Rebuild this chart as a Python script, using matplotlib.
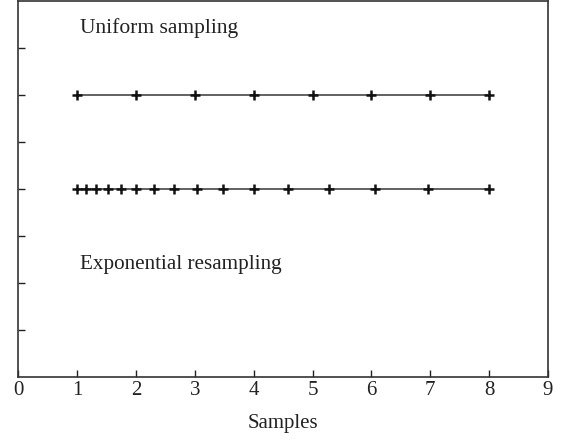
import matplotlib
matplotlib.use("Agg")
import matplotlib.pyplot as plt

# sample positions
uniform_x = [1, 2, 3, 4, 5, 6, 7, 8]
expo_x = [1.0, 1.15, 1.32, 1.52, 1.74, 2.0, 2.3, 2.64, 3.03, 3.48, 4.0,
          4.59, 5.28, 6.06, 6.96, 8.0]
uniform_level = 6
expo_level = 4

x_ticks = [0, 1, 2, 3, 4, 5, 6, 7, 8, 9]
y_ticks = [1, 2, 3, 4, 5, 6, 7]

plt.rcParams['font.family'] = ['Liberation Serif', 'DejaVu Serif']

fig = plt.figure(figsize=(5.65, 4.44), dpi=100)
ax = fig.add_axes([0.032, 0.151, 0.938, 0.847])

line_kw = dict(color='#555555', lw=1.3, marker='+', markersize=7,
               markeredgewidth=1.8, markeredgecolor='#111111')
ax.plot(uniform_x, [uniform_level] * len(uniform_x), **line_kw)
ax.plot(expo_x, [expo_level] * len(expo_x), **line_kw)

ax.text(1.05, 7.43, 'Uniform sampling', fontsize=15.5, va='center',
        color='#222222')
ax.text(1.05, 2.39, 'Exponential resampling', fontsize=15.2, va='center',
        color='#222222')

ax.set_xlim(0, 9)
ax.set_ylim(0, 8)
ax.set_xticks(x_ticks)
ax.set_yticks(y_ticks)
ax.set_yticklabels([])
ax.tick_params(direction='in', length=5, width=1, labelsize=15,
               colors='#222222', pad=3)
ax.set_xlabel('Samples', fontsize=15, color='#222222', labelpad=10)
for s in ax.spines.values():
    s.set_color('#333333')
    s.set_linewidth(1.2)

fig.savefig('out.png', dpi=100)
